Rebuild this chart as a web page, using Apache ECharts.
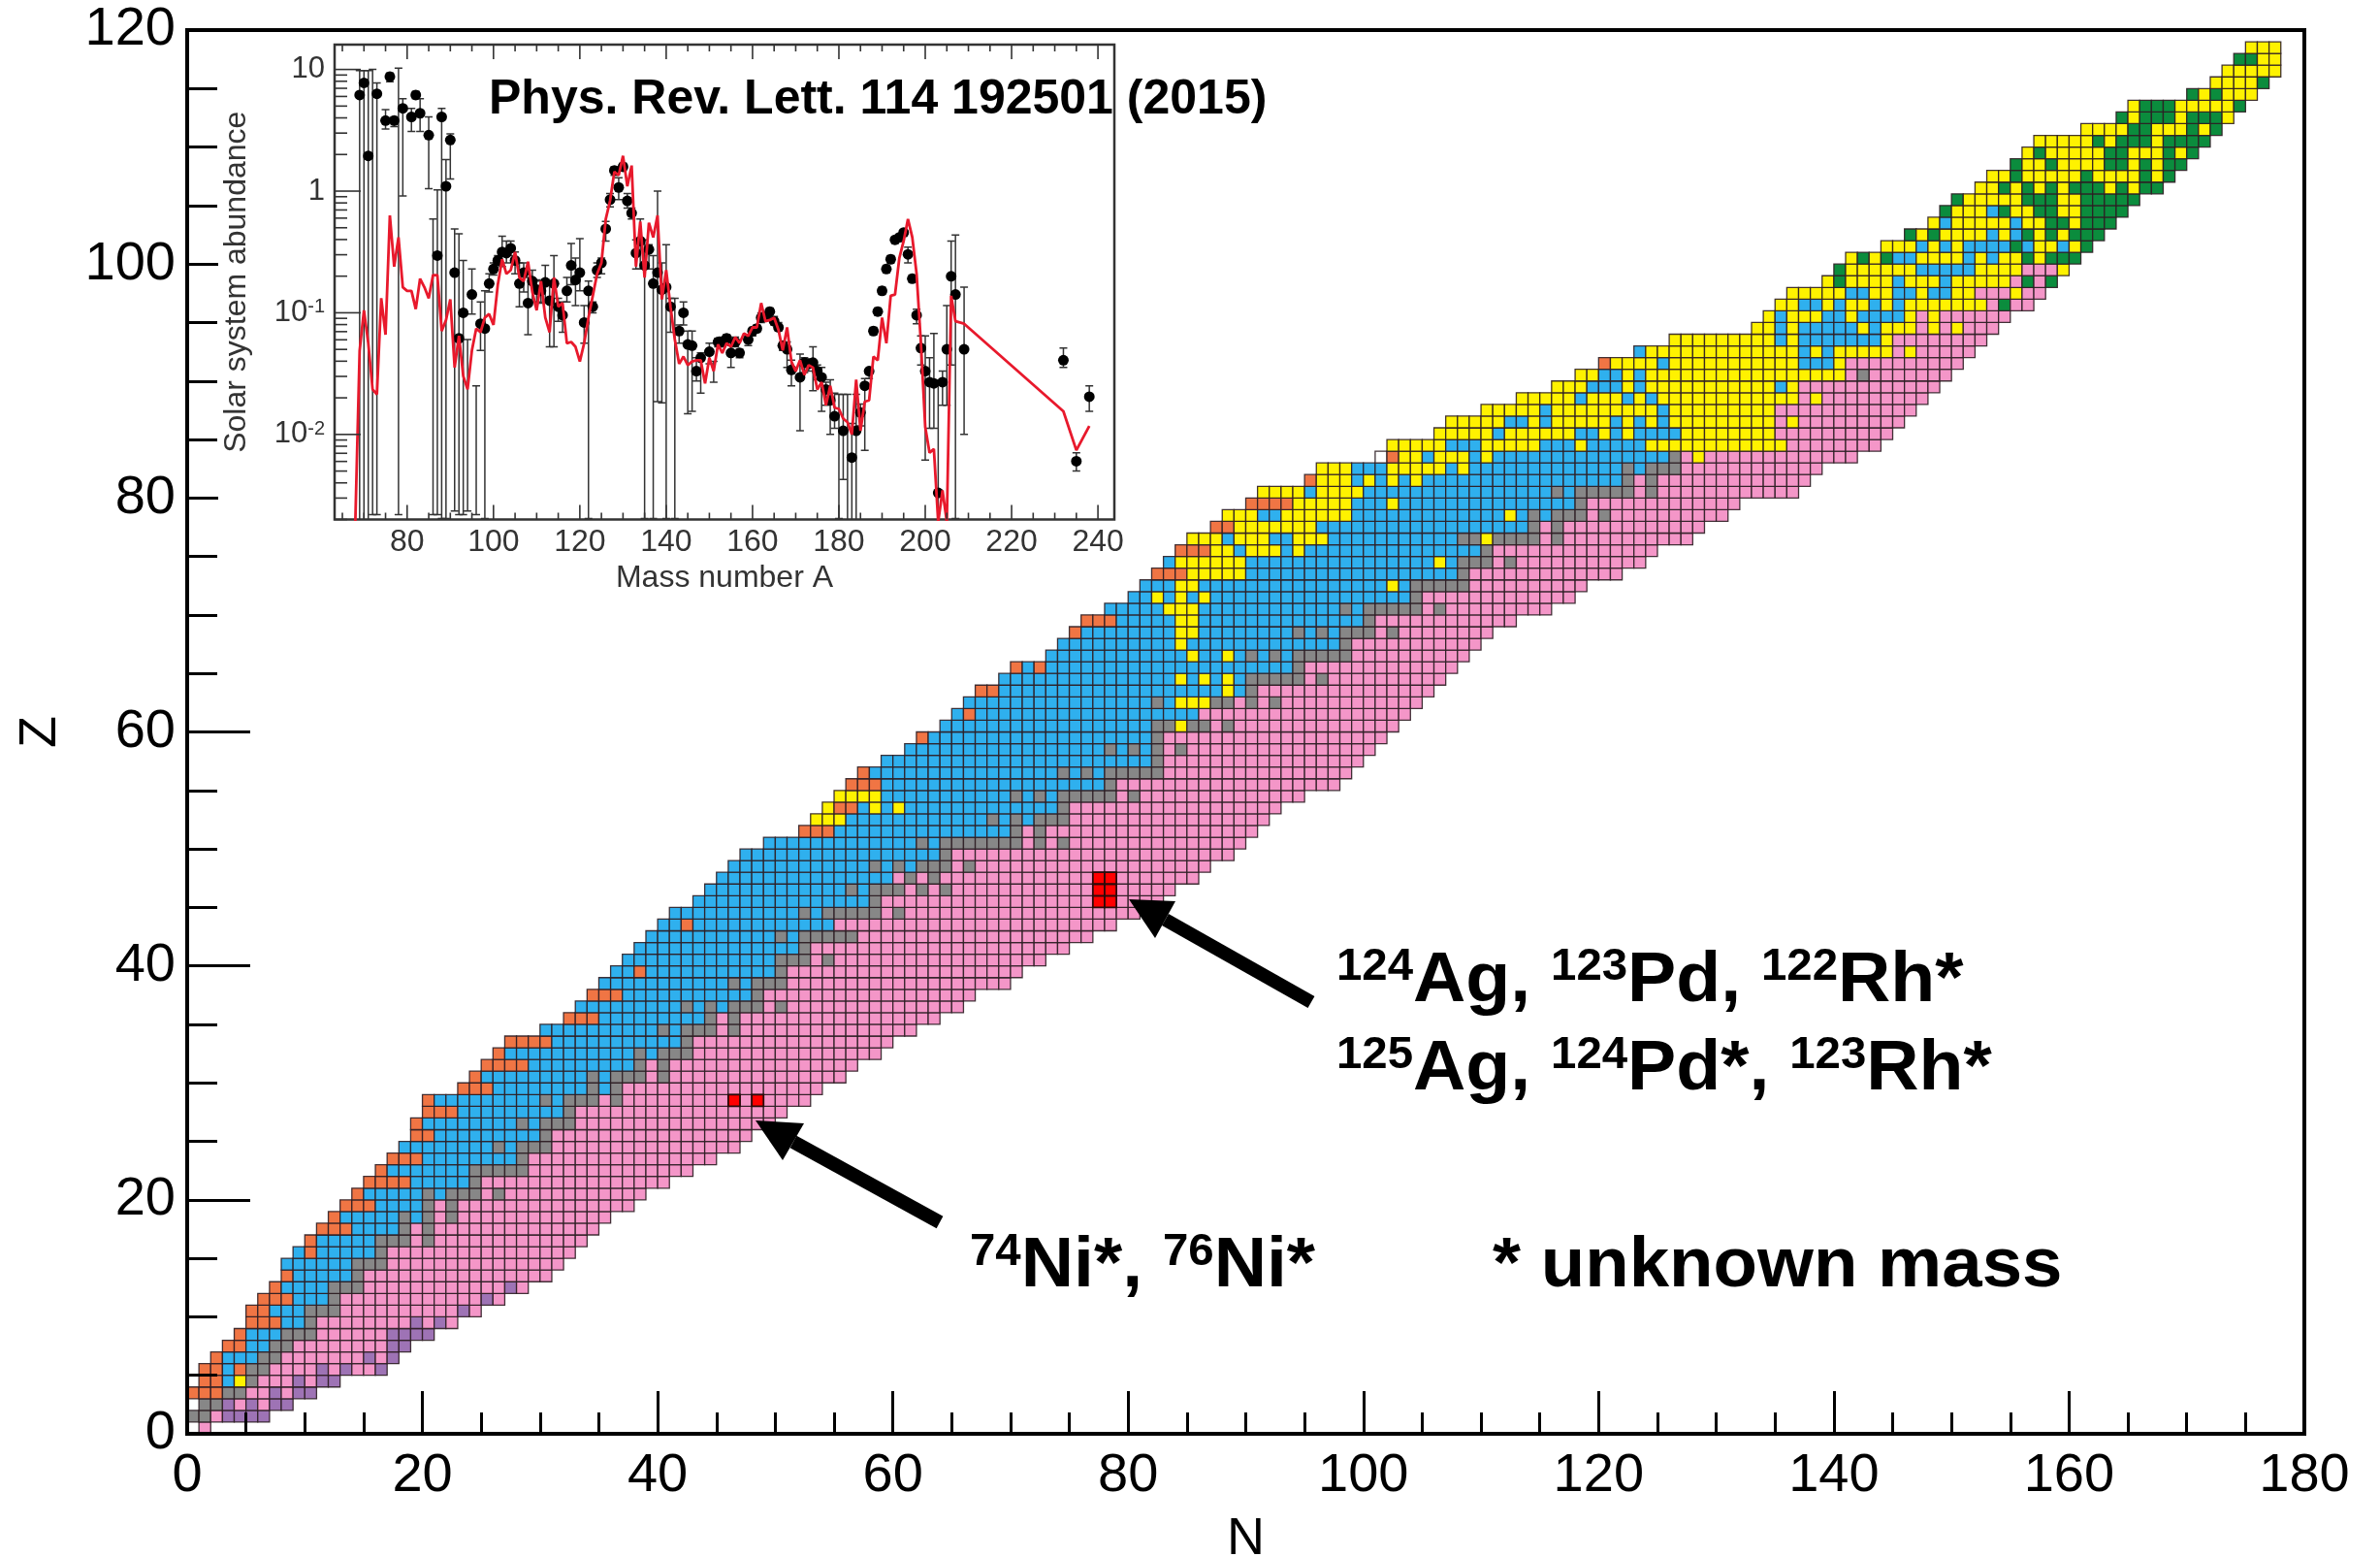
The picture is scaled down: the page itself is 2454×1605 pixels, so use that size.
<!DOCTYPE html>
<html>
<head>
<meta charset="utf-8">
<title>r-process sensitivity</title>
<script src="https://cdn.jsdelivr.net/npm/echarts@6/dist/echarts.min.js"></script>
<style>
  html, body { margin: 0; padding: 0; background: #fff; }
  #chart { width: 2454px; height: 1605px; }
</style>
</head>
<body>
<div id="chart"></div>
<script>
// first N of every row, index = Z
const rowStart = [
  1, 0, 1, 0, 1, 1, 2, 3, 4, 5, 5, 6, 7, 8, 8, 9, 10, 11, 12, 13,
  14, 15, 16, 17, 18, 19, 19, 20, 20, 23, 24, 25, 26, 27, 30, 32, 33, 34, 35, 36,
  37, 38, 39, 40, 41, 43, 44, 45, 46, 47, 49, 52, 53, 54, 55, 56, 57, 59, 61, 62,
  64, 65, 66, 67, 69, 70, 73, 74, 75, 76, 78, 80, 81, 82, 83, 84, 85, 87, 88, 90,
  91, 95, 96, 101, 102, 106, 107, 110, 113, 116, 118, 120, 123, 126, 133, 134, 135, 136, 139, 140,
  141, 144, 146, 148, 149, 150, 152, 153, 155, 156, 157, 161, 164, 165, 170, 172, 173, 174, 175,
];

// cell colours of every row as runs, index = Z
// o orange, b blue, g grey, p pink, u purple, y yellow, n green, r red, w white
const rowRuns = [
  "p1",
  "g2 p1 u4",
  "g2 u1 p1 u1 p1 u2",
  "o3 g2 p2 u1 p1 u2",
  "o2 b1 y1 g1 p3 u1 p1 u2",
  "o2 b1 o1 g2 p4 u1 p1 u1 p2 u1",
  "o1 b3 g2 p7 u1 p1 u1",
  "o2 b2 g2 p8 u2",
  "o1 b3 g3 p6 u4",
  "o3 b2 g1 p8 u1 p1 u1 p1",
  "o2 b3 g3 p10 u1 p1",
  "o3 b3 g1 p12 u1 p1",
  "o1 b4 g3 p12 u1 p1",
  "o1 b5 g1 p16",
  "b6 g3 p15",
  "b1 o1 b5 g1 p16",
  "o1 b5 g3 p1 g1 p13",
  "o3 b4 g1 p1 g1 p14",
  "o1 b5 g1 b1 g1 p1 g1 p13",
  "o3 b4 g1 p1 g1 p15",
  "o1 b5 g1 b1 g3 p1 g1 p12",
  "o4 b5 g1 p16",
  "o1 b7 g5 p14",
  "o3 b8 g1 p16",
  "b8 g1 b1 g3 p16",
  "o2 b9 g1 p17",
  "o1 b8 g1 b1 g3 p17",
  "o3 b9 g1 p18",
  "o1 b9 g1 b1 g3 p1 g1 p9 r1 p1 r1 p4",
  "o3 b8 g1 b1 g1 p17",
  "o1 b9 g1 b1 g3 p1 g1 p15",
  "o4 b9 g1 p1 g1 p16",
  "o1 b11 g1 b1 g3 p16",
  "o4 b11 g1 p17",
  "b10 g1 b1 g3 p1 g1 p15",
  "o3 b9 g1 p1 g1 p17",
  "b9 g1 b1 g1 b1 g3 p1 g1 p15",
  "o3 b11 g1 p18",
  "b11 g1 b1 g3 p19",
  "b2 o1 b11 g1 p20",
  "b13 g3 p1 g1 p18",
  "b14 g1 p22",
  "b11 g1 b1 g5 p20",
  "b2 o1 b12 p24",
  "b11 g1 b1 g5 p1 g1 p20",
  "b15 g1 p18 r2 p4",
  "b12 g1 b1 g3 p1 g1 p1 g1 p12 r2 p5",
  "b15 p1 g1 p1 g1 p13 r2 p7",
  "b12 g1 b1 g1 b1 g3 p1 g1 p20",
  "b17 g1 p24",
  "b13 g1 b1 g7 p1 g1 p1 g1 p15",
  "o3 b15 g1 p1 g1 p18",
  "y3 b12 g1 b1 g1 b1 g3 p17",
  "y1 o2 b1 y1 b1 y1 b13 g1 p18",
  "y4 b11 g1 b1 g1 b1 g5 p1 g1 p14",
  "o3 b19 g1 p19",
  "o1 b16 g1 b1 g1 b1 g5 p16",
  "b23 g1 p17",
  "b17 g1 b1 g1 b1 g1 p1 g1 p16",
  "o1 b19 g1 p19",
  "b18 g2 y1 g2 p1 g1 p14",
  "b1 o1 b19 p18",
  "b16 g1 b1 y3 g2 p1 g1 p1 g1 p12",
  "o2 b19 y1 b1 g1 p15",
  "b15 y1 b1 y1 b1 y1 b1 g5 p1 g1 p10",
  "o1 b1 o1 b21 g1 p13",
  "b12 y1 b2 y1 b1 g1 b1 g1 b1 g5 p10",
  "b10 y1 b13 g1 p11",
  "o1 b8 y2 b8 g1 b1 g1 b1 g3 p1 g1 p8",
  "o3 b5 y2 b14 g1 p12",
  "b5 y3 b12 g1 b1 g5 p1 g1 p9",
  "b2 y1 b1 y1 b1 y1 b17 g1 p13",
  "b3 y2 b16 y1 b1 g5 p10",
  "o3 y5 b18 g1 p13",
  "b1 y6 b16 y1 b1 g3 p1 g1 p11",
  "o3 y2 b1 y3 b1 y1 b15 g1 p14",
  "y3 b1 y3 b2 y3 b11 g2 y1 g4 p1 g1 p11",
  "o2 y7 b18 g1 p1 g1 p12",
  "y3 b2 y6 b13 y1 b1 g1 b1 g3 p1 g1 p10",
  "o4 y5 b3 y1 b15 g1 p13",
  "y4 b1 y4 b16 g1 b1 g5 p1 g1 p12",
  "o1 y3 b1 y1 b1 y1 b1 y1 b17 g1 p1 g1 p13",
  "y3 b3 y5 b1 y1 b13 g1 b1 g3 p12",
  "w1 o1 y2 b1 y3 b1 y1 b15 g1 p1 y1 p13",
  "y5 b3 y5 b3 y1 b5 y12 p8",
  "y5 b1 y6 b2 y1 b1 y1 b4 y8 p10",
  "y5 b2 y1 b1 y5 b1 y1 b1 y1 b1 y9 p1 y1 p9",
  "y5 b1 y9 b1 y9 p12",
  "y5 b1 y3 b1 y1 b1 y12 p1 y1 p9",
  "y3 b3 y1 b1 y11 b1 y1 p12",
  "y2 b2 y1 b1 y17 p1 g1 p7",
  "o1 y4 b1 y11 b3 y1 p10",
  "b1 y13 b1 y1 b1 y5 p1 y1 p5",
  "y9 b1 y1 b7 y1 p8",
  "y2 b1 y1 b5 y1 b1 y3 p1 y1 p1 y1 p3",
  "y1 b1 y3 b2 y1 b4 y1 p1 y1 p6",
  "y2 b2 y1 b1 y2 b1 y1 b1 y7 p1 n1 p2",
  "y5 b2 y2 b2 y1 b2 y2 p3 y1 p2",
  "y1 n1 y4 b1 y3 b1 y5 p1 n1 p1 n1",
  "n1 y6 b5 y4 p3 y1",
  "y1 n1 y1 n1 b2 y4 b1 y1 b1 y2 n1 y1 n3",
  "y3 b1 y1 b1 y1 b4 n1 b1 y2 b1 y1 n1",
  "n1 y1 n1 y4 b1 y1 b1 n1 y1 n1 y1 n3",
  "y1 b1 y5 b1 y2 n2 y1 n3",
  "n1 y3 b1 n1 y2 n2 y2 n4",
  "n1 y5 n3 y2 n5",
  "y2 n1 y1 n1 y1 n1 y1 n3 y1 n1 y1 n2",
  "y2 n1 y5 n1 y4 n1 y1 n1",
  "n1 y2 n1 y4 n2 y1 n1 y1 n2",
  "y1 n1 y5 n2 y3 n1 y1 n1",
  "y5 n1 y1 n3 y1 n4",
  "y4 n2 y3 n1 y1 n1",
  "n1 y1 n3 y1 n3 y1",
  "y1 n3 y5 n1",
  "n1 y1 n1 y3",
  "y4 n1",
  "y5",
  "n2 y2",
  "y3",
];

const cellColors = {
  o: "#f07544", b: "#2fb0ee", g: "#878787", p: "#f496c8", u: "#9e73b5",
  y: "#fff200", n: "#0b8c3d", r: "#ff0000", w: "#ffffff",
};
const cellCodes = Object.keys(cellColors);

// inset: [A, log10 abundance, log10 bar top, log10 bar bottom], null = no dot visible
const abundancePoints = [
  [69, 0.79, 0.99, -2.7], [70, 0.89, 0.99, -2.7], [71, 0.29, 0.99, -2.7], [72, null, 1.0, -2.66],
  [73, 0.8, 0.89, -2.66], [75, 0.58, 0.67, 0.51], [76, 0.94, 0.97, 0.9], [77, 0.58, 0.61, 0.53],
  [78, null, 1.01, -2.66], [79, 0.68, 0.76, -0.04], [81, 0.61, 0.68, 0.49], [82, 0.79, 0.82, 0.76],
  [83, 0.64, 0.76, 0.49], [85, 0.46, 0.61, 0.02], [86, null, -0.23, -2.66], [87, -0.53, 0.01, -2.66],
  [88, 0.61, 0.68, -2.69], [89, 0.04, 0.26, -2.69], [90, 0.42, 0.47, 0.1], [91, -0.67, -0.31, -2.63],
  [92, -1.21, -0.35, -2.66], [93, -1.0, -0.57, -2.66], [94, null, -1.22, -2.63], [95, -0.85, -0.64, -1.01],
  [96, null, -1.6, -2.66], [97, -1.09, -0.91, -1.31], [98, -1.13, -0.82, -2.69], [99, -0.76, -0.68, -0.83],
  [100, -0.64, -0.59, -0.69], [101, -0.57, -0.53, -0.61], [102, -0.5, -0.37, -0.62], [103, -0.51, -0.41, -0.59],
  [104, -0.47, -0.41, -0.53], [105, -0.57, -0.5, -0.68], [106, -0.76, -0.59, -0.95], [107, -0.67, -0.59, -0.83],
  [108, -0.92, -0.71, -1.18], [109, -0.74, -0.65, -0.91], [110, -0.81, -0.73, -0.91], [111, -0.82, -0.74, -0.92],
  [112, -0.75, -0.61, -0.91], [113, -0.9, -0.77, -1.28], [114, -0.76, -0.53, -1.28], [115, -0.95, -0.88, -1.07],
  [116, -1.02, -0.91, -1.16], [117, -0.82, -0.71, -0.91], [118, -0.61, -0.43, -0.77], [119, -0.73, -0.55, -0.94],
  [120, -0.67, -0.39, -0.82], [121, -1.08, -0.94, -1.25], [122, -0.82, -0.74, -2.69], [123, -0.95, -0.91, -1.0],
  [124, -0.65, -0.59, -0.71], [125, -0.59, -0.55, -0.68], [126, -0.31, -0.25, -0.41], [127, -0.07, -0.02, -0.13],
  [128, 0.17, 0.2, 0.13], [129, 0.03, 0.11, -0.07], [130, 0.2, 0.23, 0.17], [131, -0.08, -0.02, -0.14],
  [132, -0.18, -0.14, -0.23], [133, -0.51, -0.4, -0.64], [134, -0.41, -0.23, -0.64], [135, -0.61, -0.4, -2.69],
  [136, -0.48, -0.44, -0.64], [137, -0.76, -0.53, -2.69], [138, -0.67, 0.0, -1.73], [139, -0.81, -0.59, -1.74],
  [140, -0.79, -0.44, -2.69], [141, -0.95, -0.88, -1.16], [142, null, -0.88, -2.69], [143, -1.15, -1.1, -1.25],
  [144, -1.0, -0.91, -1.1], [145, -1.26, -1.15, -1.83], [146, -1.27, -1.15, -1.81], [147, -1.48, -1.37, -1.56],
  [148, -1.37, -1.33, -1.66], [150, -1.32, -1.25, -1.42], [151, null, -1.4, -1.57], [152, -1.24, -1.21, -1.28],
  [153, -1.24, -1.2, -1.28], [154, -1.21, -1.18, -1.25], [155, -1.33, -1.27, -1.45], [156, -1.24, -1.2, -1.28],
  [157, -1.33, -1.3, -1.37], [159, -1.22, -1.19, -1.27], [160, -1.15, -1.12, -1.19], [161, -1.13, -1.1, -1.16],
  [162, -1.04, -1.0, -1.08], [163, -1.03, -1.0, -1.06], [164, -0.99, -0.96, -1.02], [165, -1.07, -1.03, -1.1],
  [166, -1.12, -1.08, -1.15], [167, -1.27, -1.24, -1.31], [168, -1.3, -1.24, -1.45], [169, -1.47, -1.39, -1.6],
  [171, -1.53, -1.34, -1.97], [172, -1.41, -1.37, -1.49], [173, -1.42, -1.38, -1.48], [174, -1.41, -1.28, -1.64],
  [175, -1.48, -1.43, -1.55], [176, -1.53, -1.45, -1.81], [177, -1.63, -1.57, -1.76], [178, -1.72, -1.55, -2.0],
  [179, -1.85, -1.66, -1.95], [180, null, -1.67, -2.69], [181, -1.97, -1.67, -2.37], [182, null, -1.67, -2.7],
  [183, -2.19, -1.91, -2.7], [184, -1.97, -1.67, -2.7], [185, -1.82, -1.75, -1.93], [186, -1.6, -1.54, -2.13],
  [187, -1.48, -1.46, -1.54], [188, -1.15, -1.12, -1.18], [189, -0.99, -0.96, -1.02], [190, -0.82, -0.79, -0.85],
  [191, -0.64, -0.61, -0.67], [192, -0.56, -0.53, -0.59], [193, -0.4, -0.38, -0.43], [194, -0.38, -0.36, -0.41],
  [195, -0.34, -0.32, -0.37], [196, -0.52, -0.46, -0.59], [197, -0.72, -0.69, -0.75], [198, -1.02, -0.97, -1.09],
  [199, -1.29, -1.19, -1.43], [200, -1.48, -1.19, -2.21], [201, -1.57, -1.37, -1.95], [202, -1.58, -1.17, -1.95],
  [203, -2.48, -1.58, -2.7], [204, -1.57, -1.48, -1.76], [205, -1.3, -0.94, -1.76], [206, -0.7, -0.41, -1.43],
  [207, -0.85, -0.36, -2.69], [209, -1.3, -0.79, -2.0], [232, -1.39, -1.29, -1.45], [235, -2.22, -2.15, -2.3],
  [238, -1.69, -1.6, -1.81],
];

// inset red curve: [A, log10 abundance]
const calcCurve = [
  [68, -2.72], [69, -1.31], [70, -0.98], [71, -1.25], [72, -1.63], [73, -1.67], [74, -0.88], [75, -1.18],
  [76, -0.2], [77, -0.62], [78, -0.38], [79, -0.79], [80, -0.82], [81, -0.82], [82, -0.97], [83, -0.72],
  [84, -0.79], [85, -0.88], [86, -0.69], [87, -0.69], [88, -1.15], [89, -1.06], [90, -0.89], [91, -1.45],
  [92, -1.19], [93, -1.52], [94, -1.63], [95, -1.31], [96, -1.13], [97, -1.16], [98, -1.04], [99, -1.01],
  [100, -1.1], [101, -0.77], [102, -0.56], [103, -0.68], [104, -0.65], [105, -0.5], [106, -0.71], [107, -0.74],
  [108, -0.58], [109, -0.83], [110, -0.98], [111, -0.74], [112, -1.04], [113, -1.16], [114, -0.71], [115, -0.95],
  [116, -0.92], [117, -1.25], [118, -1.24], [119, -1.28], [120, -1.4], [121, -1.25], [122, -1.04], [123, -0.86],
  [124, -0.68], [125, -0.59], [126, -0.23], [127, -0.08], [128, 0.16], [129, 0.13], [130, 0.29], [131, 0.04],
  [132, 0.21], [133, -0.62], [134, -0.25], [135, -0.71], [136, -0.26], [137, -0.38], [138, -0.2], [139, -0.89],
  [140, -0.65], [141, -0.95], [142, -1.22], [143, -1.42], [144, -1.36], [145, -1.43], [146, -1.4], [147, -1.39],
  [148, -1.39], [149, -1.58], [150, -1.37], [151, -1.48], [152, -1.26], [153, -1.33], [154, -1.25], [155, -1.28],
  [156, -1.2], [157, -1.25], [158, -1.17], [159, -1.19], [160, -1.12], [161, -1.12], [162, -0.92], [163, -1.07],
  [164, -1.06], [165, -1.04], [166, -1.14], [167, -1.31], [168, -1.12], [169, -1.4], [170, -1.48], [171, -1.39],
  [172, -1.51], [173, -1.43], [174, -1.45], [175, -1.63], [176, -1.57], [177, -1.76], [178, -1.6], [179, -1.78],
  [180, -1.79], [181, -1.87], [182, -1.9], [183, -2.0], [184, -1.55], [185, -1.97], [186, -1.73], [187, -1.72],
  [188, -1.36], [189, -1.39], [190, -1.04], [191, -1.25], [192, -0.86], [193, -0.85], [194, -0.55], [195, -0.41],
  [196, -0.23], [197, -0.38], [198, -0.68], [199, -1.25], [200, -1.94], [201, -2.15], [202, -2.12], [203, -2.72],
  [204, -2.46], [205, -2.72], [206, -0.86], [207, -1.07], [209, -1.09], [232, -1.81], [235, -2.13], [238, -1.93],
];

const insetXMajor = [80, 100, 120, 140, 160, 180, 200, 220, 240];
const insetXMinor = [65, 70, 75, 85, 90, 95, 105, 110, 115, 125, 130, 135, 145, 150, 155, 165, 170, 175,
  185, 190, 195, 205, 210, 215, 225, 230, 235];
const insetYMajor = [0.01, 0.1, 1, 10];
const insetYMinor = [0.002, 0.003, 0.004, 0.005, 0.006, 0.007, 0.008, 0.009,
  0.02, 0.03, 0.04, 0.05, 0.06, 0.07, 0.08, 0.09,
  0.2, 0.3, 0.4, 0.5, 0.6, 0.7, 0.8, 0.9,
  2, 3, 4, 5, 6, 7, 8, 9];

const FONT = '"Liberation Sans", Arial, sans-serif';
const insetXMin = 63.2, insetXMax = 243.8, insetYMin = 0.002, insetYMax = 16;

// rows to cells
const cells = [];
const redCells = [];
rowRuns.forEach((runs, z) => {
  let n = rowStart[z];
  runs.split(" ").forEach((run) => {
    const code = run[0];
    const count = parseInt(run.slice(1));
    for (let i = 0; i < count; i++) {
      const row = [n, z, cellCodes.indexOf(code)];
      if (code === "r") redCells.push(row);
      else cells.push(row);
      n++;
    }
  });
});

function renderCell(params, api) {
  const n = api.value(0);
  const z = api.value(1);
  const code = cellCodes[api.value(2)];
  const a = api.coord([n, z]);
  const b = api.coord([n + 1, z + 1]);
  const isRed = code === "r";
  return {
    type: "rect",
    shape: { x: a[0], y: b[1], width: b[0] - a[0], height: a[1] - b[1] },
    style: {
      fill: cellColors[code],
      stroke: isRed ? "#2a0a0a" : "rgba(45,30,35,0.9)",
      lineWidth: isRed ? 1.8 : 1.3,
    },
  };
}

function renderErrorBar(params, api) {
  const a = api.value(0);
  const top = api.coord([a, api.value(1)]);
  const bot = api.coord([a, api.value(2)]);
  const cap = 4;
  const line = (x1, y1, x2, y2) => ({
    type: "line",
    shape: { x1, y1, x2, y2 },
    style: { stroke: "#333", lineWidth: 1.5 },
  });
  return {
    type: "group",
    children: [
      line(top[0], top[1], bot[0], bot[1]),
      line(top[0] - cap, top[1], top[0] + cap, top[1]),
      line(bot[0] - cap, bot[1], bot[0] + cap, bot[1]),
    ],
  };
}

// inset ticks: x ticks on bottom and top, y ticks on the left
function renderInsetTick(params, api) {
  const side = api.value(0);
  const value = api.value(1);
  const size = api.value(2);
  const style = { stroke: "#333", lineWidth: 1.6 };
  if (side === 0) {
    const p = api.coord([insetXMin, value]);
    return { type: "line", shape: { x1: p[0], y1: p[1], x2: p[0] + size, y2: p[1] }, style };
  }
  const b = api.coord([value, insetYMin]);
  const t = api.coord([value, insetYMax]);
  return {
    type: "group",
    children: [
      { type: "line", shape: { x1: b[0], y1: b[1], x2: b[0], y2: b[1] - size }, style },
      { type: "line", shape: { x1: t[0], y1: t[1], x2: t[0], y2: t[1] + size }, style },
    ],
  };
}

const insetTicks = [
  ...insetXMajor.map((v) => [1, v, 15]),
  ...insetXMinor.map((v) => [1, v, 7]),
  ...insetYMajor.map((v) => [0, v, 27]),
  ...insetYMinor.map((v) => [0, v, 13]),
];

function arrow(tail, tip, wingA, wingB) {
  const neck = [(wingA[0] + wingB[0]) / 2, (wingA[1] + wingB[1]) / 2];
  return [
    {
      type: "line",
      z: 20,
      shape: { x1: tail[0], y1: tail[1], x2: neck[0], y2: neck[1] },
      style: { stroke: "#000", lineWidth: 14 },
    },
    {
      type: "polygon",
      z: 20,
      shape: { points: [tip, wingA, wingB] },
      style: { fill: "#000" },
    },
  ];
}

const noteRich = {
  s: { fontFamily: FONT, fontSize: 46, fontWeight: "bold", verticalAlign: "top", lineHeight: 74, fill: "#000" },
  m: { fontFamily: FONT, fontSize: 73, fontWeight: "bold", verticalAlign: "bottom", lineHeight: 74, fill: "#000" },
};

function note(text, x, baseline, scaleX) {
  return {
    type: "text",
    z: 20,
    x: x,
    y: baseline + 17,
    scaleX: scaleX,
    style: { text: text, rich: noteRich, verticalAlign: "bottom", align: "left" },
  };
}

const chart = echarts.init(document.getElementById("chart"));

chart.setOption({
  animation: false,
  backgroundColor: "#fff",
  textStyle: { fontFamily: FONT },
  grid: [
    { left: 193, top: 31, width: 2183, height: 1447, show: true, borderColor: "#000", borderWidth: 4, z: 6, outerBoundsMode: "none" },
    { left: 345, top: 46, width: 804, height: 489.5, show: true, borderColor: "#333", borderWidth: 2.5, z: 8, outerBoundsMode: "none" },
  ],
  xAxis: [
    {
      gridIndex: 0,
      type: "value",
      min: 0,
      max: 180,
      interval: 20,
      z: 6,
      name: "N",
      nameLocation: "middle",
      nameGap: 82,
      nameTextStyle: { fontSize: 54, color: "#000" },
      splitLine: { show: false },
      axisLine: { lineStyle: { color: "#000", width: 4 } },
      axisTick: { inside: true, length: 44, lineStyle: { color: "#000", width: 3 } },
      minorTick: { show: true, splitNumber: 4, length: 22, lineStyle: { color: "#000", width: 3 } },
      axisLabel: { fontSize: 56, color: "#000", margin: 16 },
    },
    {
      gridIndex: 1,
      type: "value",
      min: insetXMin,
      max: insetXMax,
      z: 8,
      name: "Mass number A",
      nameLocation: "middle",
      nameGap: 45,
      nameTextStyle: { fontSize: 32, color: "#333" },
      splitLine: { show: false },
      axisLine: { show: false },
      axisTick: { show: false },
      axisLabel: { fontSize: 32, color: "#333", margin: 8, customValues: insetXMajor },
    },
  ],
  yAxis: [
    {
      gridIndex: 0,
      type: "value",
      min: 0,
      max: 120,
      interval: 20,
      z: 6,
      name: "Z",
      nameLocation: "middle",
      nameGap: 124,
      nameTextStyle: { fontSize: 54, color: "#000" },
      splitLine: { show: false },
      axisLine: { lineStyle: { color: "#000", width: 4 } },
      axisTick: { inside: true, length: 65, lineStyle: { color: "#000", width: 3 } },
      minorTick: { show: true, splitNumber: 4, length: 31, lineStyle: { color: "#000", width: 3 } },
      axisLabel: { fontSize: 56, color: "#000", margin: 12 },
    },
    {
      gridIndex: 1,
      type: "log",
      min: insetYMin,
      max: insetYMax,
      z: 8,
      name: "Solar system abundance",
      nameLocation: "middle",
      nameGap: 85,
      nameTextStyle: { fontSize: 32, color: "#333" },
      splitLine: { show: false },
      axisLine: { show: false },
      axisTick: { show: false },
      axisLabel: {
        color: "#333",
        margin: 10,
        fontSize: 31,
        customValues: insetYMajor,
        formatter: (v) => {
          if (v === 10) return "10";
          if (v === 1) return "1";
          if (v < 0.05) return "10{e|-2}";
          return "10{e|-1}";
        },
        rich: { e: { fontSize: 20, verticalAlign: "top", lineHeight: 30, color: "#333" } },
      },
    },
  ],
  series: [
    {
      type: "custom",
      xAxisIndex: 0,
      yAxisIndex: 0,
      progressive: 0,
      renderItem: renderCell,
      encode: { x: 0, y: 1 },
      data: cells,
      z: 2,
      silent: true,
    },
    {
      type: "custom",
      xAxisIndex: 0,
      yAxisIndex: 0,
      progressive: 0,
      renderItem: renderCell,
      encode: { x: 0, y: 1 },
      data: redCells,
      z: 3,
      silent: true,
    },
    {
      type: "custom",
      xAxisIndex: 1,
      yAxisIndex: 1,
      clip: true,
      renderItem: renderErrorBar,
      encode: { x: 0, y: [1, 2] },
      data: abundancePoints.map((p) => [p[0], Math.pow(10, p[2]), Math.pow(10, p[3])]),
      z: 9,
      silent: true,
    },
    {
      type: "scatter",
      xAxisIndex: 1,
      yAxisIndex: 1,
      symbolSize: 11,
      itemStyle: { color: "#000", opacity: 1 },
      data: abundancePoints.filter((p) => p[1] !== null).map((p) => [p[0], Math.pow(10, p[1])]),
      z: 10,
      silent: true,
    },
    {
      type: "line",
      xAxisIndex: 1,
      yAxisIndex: 1,
      showSymbol: false,
      clip: true,
      lineStyle: { color: "#e8192c", width: 2.8 },
      data: calcCurve.map((p) => [p[0], Math.pow(10, p[1])]),
      z: 11,
      silent: true,
    },
    {
      type: "custom",
      xAxisIndex: 1,
      yAxisIndex: 1,
      clip: false,
      renderItem: renderInsetTick,
      data: insetTicks,
      encode: { x: 1 },
      z: 12,
      silent: true,
    },
  ],
  graphic: [
    // the pasted inset hides the long main axis ticks behind it
    {
      type: "rect",
      z: 7,
      shape: { x: 225, y: 34, width: 930, height: 578 },
      style: { fill: "#fff" },
    },
    ...arrow([1352, 1033], [1164, 927], [1212, 929], [1191, 967]),
    ...arrow([969, 1260], [779, 1155], [829, 1158], [807, 1196]),
    note("{s|124}{m|Ag, }{s|123}{m|Pd, }{s|122}{m|Rh*}", 1378, 1031, 1.03),
    note("{s|125}{m|Ag, }{s|124}{m|Pd*, }{s|123}{m|Rh*}", 1378, 1122, 1.03),
    note("{s|74}{m|Ni*, }{s|76}{m|Ni*}", 1000, 1325, 1.03),
    note("{m|* unknown mass}", 1539, 1325, 1.02),
    {
      type: "text",
      z: 20,
      x: 504,
      y: 103,
      style: {
        text: "Phys. Rev. Lett. 114 192501 (2015)",
        fontFamily: FONT,
        fontWeight: "bold",
        fontSize: 50,
        fill: "#000",
        verticalAlign: "middle",
      },
    },
  ],
});
</script>
</body>
</html>
